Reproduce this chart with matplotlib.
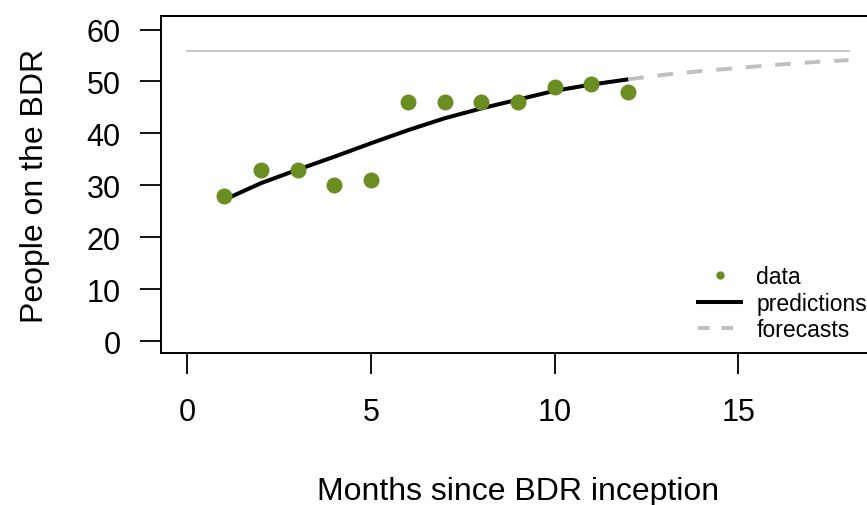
import matplotlib.pyplot as plt
from matplotlib.lines import Line2D

months = [1, 2, 3, 4, 5, 6, 7, 8, 9, 10, 11, 12]
people = [28, 33, 33, 30, 31, 46, 46, 46, 46, 49, 49.5, 48]
predicted = [27.2, 30.4, 33.0, 35.5, 38.1, 40.6, 42.9, 44.8, 46.5, 48.2, 49.4, 50.4]

forecast_months = [12, 13, 14, 15, 16, 17, 18]
forecast = [50.4, 51.3, 52.0, 52.6, 53.2, 53.7, 54.1]

capacity = 55.9
x_ticks = [0, 5, 10, 15]
y_ticks = [0, 10, 20, 30, 40, 50, 60]

green = '#6B8E23'
grey = '#BFBFBF'

plt.rcParams['font.family'] = ['Liberation Sans', 'DejaVu Sans']


def main():
    fig = plt.figure(figsize=(8.67, 5.06), dpi=100)
    # frame runs past the right edge of the figure
    ax = fig.add_axes([161 / 867, 1 - 354 / 506, 714 / 867, 337 / 506])

    ax.plot([0, 18], [capacity, capacity], color='#BDBDBD', lw=1.2)
    ax.plot(forecast_months, forecast, color=grey, lw=2.8, dashes=(4, 3.6))
    ax.plot(months, predicted, color='black', lw=2.9, solid_capstyle='butt')
    ax.plot(months, people, 'o', color=green, ms=11.5, mec='none')

    ax.set_xlim(-0.72, 18.72)
    ax.set_ylim(-2.3, 62.6)
    ax.set_xticks(x_ticks)
    ax.set_yticks(y_ticks)
    ax.set_yticklabels([str(v) for v in y_ticks])

    for side in ax.spines.values():
        side.set_linewidth(1.4)
    ax.tick_params(axis='both', direction='out', length=15, width=1.3,
                   labelsize=22, color='black')
    ax.tick_params(axis='x', pad=17)
    ax.tick_params(axis='y', pad=14)

    ax.set_xlabel('Months since BDR inception', fontsize=23)
    ax.set_ylabel('People on the BDR', fontsize=23)
    ax.xaxis.set_label_coords(0.5, -0.365)
    ax.yaxis.set_label_coords(-0.155, 0.5)

    handles = [
        Line2D([], [], ls='none', marker='o', color=green, ms=6, mec='none'),
        Line2D([], [], color='black', lw=2.9),
        Line2D([], [], color=grey, lw=2.8, dashes=(3, 3)),
    ]
    ax.legend(handles, ['data', 'predictions', 'forecasts'],
              loc='lower left', bbox_to_anchor=(0.752, 0.035),
              frameon=False, fontsize=16.5, handlelength=1.9,
              handletextpad=0.65, labelspacing=0.15,
              borderpad=0, borderaxespad=0)

    fig.savefig('out.png', dpi=100)


if __name__ == '__main__':
    main()
